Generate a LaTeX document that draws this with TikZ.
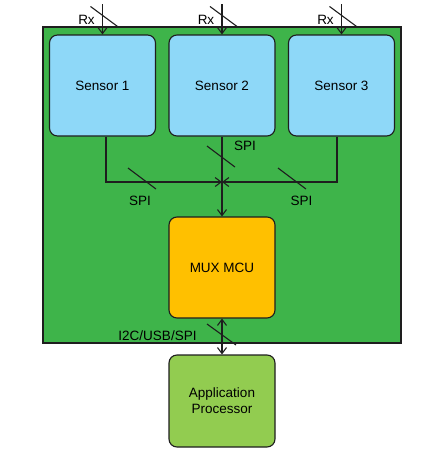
\documentclass[tikz,border=0pt]{standalone}
\usepackage{fontspec}
\setmainfont{Liberation Sans}
\usetikzlibrary{arrows.meta}
\definecolor{boardgreen}{RGB}{62,180,74}
\definecolor{sensorblue}{RGB}{142,216,248}
\definecolor{muxorange}{RGB}{255,192,0}
\definecolor{appgreen}{RGB}{146,204,80}
\definecolor{wire}{RGB}{30,30,30}

\begin{document}
\begin{tikzpicture}[x=1pt, y=-1pt, line width=1.1pt, draw=wire,
    block/.style={draw=wire, rounded corners=8pt, minimum width=106pt, minimum height=101pt,
        align=center, font=\fontsize{13.5}{16}\selectfont},
    lbl/.style={font=\fontsize{13.5}{16}\selectfont, inner sep=0pt},
    link/.style={-{Straight Barb[length=6pt,width=9pt]}}]
    \useasboundingbox (0,0) rectangle (435,467);
    % board
    \fill[boardgreen, draw=wire] (43,27) rectangle (401,343);
    % sensors
    \node[block, fill=sensorblue] (s1) at (102.5,85.5) {Sensor 1};
    \node[block, fill=sensorblue] (s2) at (222,85.5) {Sensor 2};
    \node[block, fill=sensorblue] (s3) at (341.5,85.5) {Sensor 3};
    \node[block, fill=muxorange] (mux) at (222,267.5) {MUX MCU};
    \node[block, fill=appgreen, minimum height=92pt] (app) at (222,401) {Application\\Processor};
    % Rx inputs
    \foreach \s in {s1,s2,s3} {
        \coordinate (rx-\s) at ([yshift=30]\s.north);
        \draw[link] (rx-\s) -- (\s.north);
        \draw ([xshift=-12,yshift=28]\s.north) -- ++(27,20);
        \node[lbl] at ([xshift=-16,yshift=15]\s.north) {Rx};
    }
    % SPI bus
    \coordinate (j) at (222,182);
    \draw[link] ([xshift=3.5]s1.south) |- (j);
    \draw[link] ([xshift=-4.5]s3.south) |- (j);
    \draw[link] (s2) -- (mux);
    \draw (207,146) -- ++(28,21);
    \draw (128,168) -- ++(28,21);
    \draw (278,168) -- ++(28,21);
    \node[lbl] at (245,146) {SPI};
    \node[lbl] at (140,201) {SPI};
    \node[lbl] at (301.5,201) {SPI};
    % host link
    \draw[{Straight Barb[length=6pt,width=9pt]}-{Straight Barb[length=6pt,width=9pt]}] (mux) -- (app);
    \draw (207,324) -- ++(29,21);
    \node[lbl] at (157.5,336) {I2C/USB/SPI};
\end{tikzpicture}
\end{document}
